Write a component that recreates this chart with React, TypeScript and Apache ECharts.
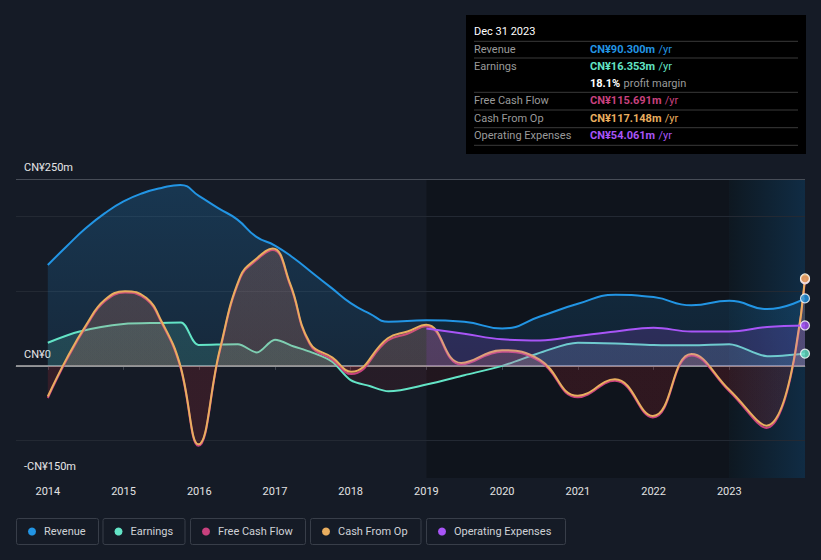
import React, { useEffect, useRef } from 'react';
import * as echarts from 'echarts';

// ---------- data ----------
const years = [2014, 2015, 2016, 2017, 2018, 2019, 2020, 2021, 2022, 2023];
const yLabelValues = [250, 0, -150];
const gridValues = [200, 100, -100];
const xMin = 2013.58;
const xMax = 2024;
const yMin = -150;
const yMax = 250;
const pastStart = 2019;
const forecastStart = 2023;
const tipDate = 'Dec 31 2023';

const revenue: [number, number][] = [
  [2014.0, 135], [2014.25, 160], [2014.5, 184], [2014.75, 204], [2015.0, 220],
  [2015.25, 231], [2015.5, 238], [2015.75, 242], [2016.0, 227], [2016.25, 211],
  [2016.5, 196], [2016.75, 173], [2017.0, 161], [2017.25, 144], [2017.5, 124],
  [2017.75, 104], [2018.0, 84], [2018.25, 70], [2018.5, 59], [2019.0, 61],
  [2019.5, 59], [2020.0, 50], [2020.5, 66], [2021.0, 83], [2021.5, 95],
  [2022.0, 92], [2022.5, 81], [2023.0, 87], [2023.5, 76], [2024.0, 90.3],
];

const earnings: [number, number][] = [
  [2014.0, 31], [2014.42, 46], [2015.0, 56], [2015.5, 57.5], [2015.76, 58],
  [2015.99, 28], [2016.51, 29], [2016.76, 18], [2017.0, 35], [2017.25, 26],
  [2017.46, 19], [2017.75, 6], [2018.0, -19], [2018.25, -27], [2018.5, -34],
  [2019.0, -25], [2019.5, -12.5], [2020.0, 0], [2020.54, 19], [2021.0, 31],
  [2021.5, 30], [2022.0, 28], [2022.5, 27.5], [2023.0, 29], [2023.5, 13],
  [2024.0, 16.353],
];

const cashFromOp: [number, number][] = [
  [2014.0, -41], [2014.25, 10], [2014.52, 57], [2014.75, 88], [2015.02, 100],
  [2015.3, 91], [2015.5, 60], [2015.74, 4], [2015.99, -105], [2016.27, 21],
  [2016.54, 119], [2016.75, 143], [2016.97, 157], [2017.2, 110], [2017.46, 31],
  [2017.76, 11], [2018.01, -8], [2018.49, 37], [2018.75, 46], [2019.0, 55],
  [2019.46, 4], [2020.0, 21], [2020.5, 8], [2021.0, -40], [2021.49, -18],
  [2021.99, -67], [2022.5, 16], [2023.0, -32], [2023.49, -80], [2024.0, 117.148],
];

const freeCashFlow: [number, number][] = [
  [2014.0, -43], [2014.25, 8], [2014.52, 55], [2014.75, 86], [2015.02, 98],
  [2015.3, 89], [2015.5, 58], [2015.74, 2], [2015.99, -107], [2016.27, 19],
  [2016.54, 117], [2016.75, 141], [2016.97, 155], [2017.2, 108], [2017.46, 29],
  [2017.76, 8], [2018.01, -11], [2018.49, 34], [2018.75, 43], [2019.0, 53],
  [2019.46, 2], [2020.0, 19], [2020.5, 6], [2021.0, -42], [2021.49, -20],
  [2021.99, -69], [2022.5, 14], [2023.0, -34], [2023.49, -83], [2024.0, 115.691],
];

const opex: [number, number][] = [
  [2019.0, 50], [2019.5, 43], [2020.0, 35.5], [2020.5, 34], [2021.0, 40],
  [2021.5, 46], [2022.0, 51], [2022.5, 46], [2023.0, 46], [2023.5, 52],
  [2024.0, 54.061],
];

// ---------- style ----------
const BG = '#151b26';
const FONT = 'Roboto, "Noto Sans", sans-serif';
const C = {
  revenue: '#2295e4',
  earnings: '#63e4c6',
  fcf: '#c8417e',
  cfo: '#e9ae5f',
  opex: '#a855f7',
};

const last = (a: [number, number][]) => a[a.length - 1];
const fmtY = (v: number) => (v === 0 ? 'CN¥0' : v < 0 ? `-CN¥${-v}m` : `CN¥${v}m`);

function lineSeries(id: string, name: string, data: [number, number][], color: string, z: number, smooth: number) {
  return {
    id,
    name,
    type: 'line',
    data,
    z,
    smooth,
    symbol: 'none',
    lineStyle: { color, width: 2 },
    itemStyle: { color },
    areaStyle: { color: 'rgba(0,0,0,0)', origin: 0 },
  };
}

export default function App() {
  const ref = useRef<HTMLDivElement>(null);

  useEffect(() => {
    document.body.style.margin = '0';
    document.body.style.background = BG;
    const chart = echarts.init(ref.current!, null, { renderer: 'svg' });

    const tipRows = [
      { label: 'Revenue', color: C.revenue, v: last(revenue)[1] },
      { label: 'Earnings', color: C.earnings, v: last(earnings)[1] },
      { label: '', color: '', v: 0 },
      { label: 'Free Cash Flow', color: C.fcf, v: last(freeCashFlow)[1] },
      { label: 'Cash From Op', color: C.cfo, v: last(cashFromOp)[1] },
      { label: 'Operating Expenses', color: C.opex, v: last(opex)[1] },
    ];
    const margin = (last(earnings)[1] / last(revenue)[1]) * 100;
    const rowY = [34, 51.3, 68.7, 85.3, 103.3, 120];
    const sepY = [26.3, 43, 77.3, 95, 112.7, 130.3];

    const tipChildren: any[] = [
      { type: 'rect', shape: { x: 0, y: 0, width: 340, height: 139 }, style: { fill: '#000' } },
      {
        type: 'text',
        style: { x: 8, y: 16, text: tipDate, fill: '#ffffff', font: `11px ${FONT}`, verticalAlign: 'middle' },
      },
    ];
    sepY.forEach((y) =>
      tipChildren.push({
        type: 'line',
        shape: { x1: 8, y1: y, x2: 332, y2: y },
        style: { stroke: '#3a3a3a', lineWidth: 1 },
      })
    );
    tipRows.forEach((r, i) => {
      if (r.label) {
        tipChildren.push({
          type: 'text',
          style: { x: 8, y: rowY[i], text: r.label, fill: '#9a9a9a', font: `11px ${FONT}`, verticalAlign: 'middle' },
        });
        tipChildren.push({
          type: 'text',
          style: {
            x: 124,
            y: rowY[i],
            text: `{b|CN¥${r.v.toFixed(3)}m} {n|/yr}`,
            verticalAlign: 'middle',
            rich: {
              b: { fill: r.color, fontWeight: 'bold', fontSize: 11, fontFamily: FONT },
              n: { fill: r.color, fontSize: 11, fontFamily: FONT },
            },
          },
        });
      } else {
        tipChildren.push({
          type: 'text',
          style: {
            x: 124,
            y: rowY[i],
            text: `{b|${margin.toFixed(1)}%} {n|profit margin}`,
            verticalAlign: 'middle',
            rich: {
              b: { fill: '#ffffff', fontWeight: 'bold', fontSize: 11, fontFamily: FONT },
              n: { fill: '#9a9a9a', fontSize: 11, fontFamily: FONT },
            },
          },
        });
      }
    });

    const legendItems = [
      { name: 'Revenue', color: C.revenue, x: 16, w: 82 },
      { name: 'Earnings', color: C.earnings, x: 102.5, w: 82 },
      { name: 'Free Cash Flow', color: C.fcf, x: 190, w: 115 },
      { name: 'Cash From Op', color: C.cfo, x: 310, w: 110.5 },
      { name: 'Operating Expenses', color: C.opex, x: 426, w: 139 },
    ];
    const legendEls: any[] = [];
    legendItems.forEach((it) => {
      legendEls.push({
        type: 'rect',
        shape: { x: it.x + 0.5, y: 518.5, width: it.w, height: 26, r: 2 },
        style: { fill: 'rgba(0,0,0,0)', stroke: '#383e49', lineWidth: 1 },
      });
      legendEls.push({
        type: 'circle',
        shape: { cx: it.x + 16, cy: 531.5, r: 4 },
        style: { fill: it.color },
      });
      legendEls.push({
        type: 'text',
        style: { x: it.x + 28, y: 531.5, text: it.name, fill: '#cfd2d7', font: `11px ${FONT}`, verticalAlign: 'middle' },
      });
    });

    const series: any[] = [
      {
        id: 'bg',
        type: 'line',
        data: [],
        z: 1,
        silent: true,
        markArea: {
          silent: true,
          z: 0,
          data: [
            [{ xAxis: pastStart, itemStyle: { color: 'rgba(0,0,0,0.24)' } }, { xAxis: forecastStart }],
            [
              {
                xAxis: forecastStart,
                itemStyle: {
                  color: new echarts.graphic.LinearGradient(0, 0, 1, 0, [
                    { offset: 0, color: '#0e1821' },
                    { offset: 1, color: '#102c44' },
                  ]),
                },
              },
              { xAxis: xMax },
            ],
          ],
        },
        markLine: {
          silent: true,
          z: 1,
          symbol: 'none',
          label: { show: false },
          animation: false,
          data: [
            ...gridValues.map((v) => ({ yAxis: v, lineStyle: { color: '#232933', width: 1, type: 'solid' } })),
            { yAxis: yMax, lineStyle: { color: '#474d57', width: 1, type: 'solid' } },
            { yAxis: 0, lineStyle: { color: '#b0b0b0', width: 1.5, type: 'solid' } },
          ],
        },
      },
      {
        ...lineSeries('revenue', 'Revenue', revenue, C.revenue, 2, 0.5),
        areaStyle: {
          origin: 0,
          color: new echarts.graphic.LinearGradient(0, 0, 0, 1, [
            { offset: 0, color: 'rgba(34,149,228,0.32)' },
            { offset: 1, color: 'rgba(34,149,228,0.16)' },
          ]),
        },
      },
      lineSeries('earnings', 'Earnings', earnings, C.earnings, 3, 0.3),
      lineSeries('fcf', 'Free Cash Flow', freeCashFlow, C.fcf, 4, 0.45),
      lineSeries('cfo', 'Cash From Op', cashFromOp, C.cfo, 5, 0.45),
      {
        ...lineSeries('opex', 'Operating Expenses', opex, C.opex, 6, 0.4),
        areaStyle: { origin: 0, color: 'rgba(168,85,247,0.25)' },
      },
      {
        id: 'dots',
        type: 'scatter',
        z: 8,
        symbolSize: 9,
        silent: true,
        data: [
          { value: last(earnings), itemStyle: { color: C.earnings } },
          { value: last(opex), itemStyle: { color: C.opex } },
          { value: last(revenue), itemStyle: { color: C.revenue } },
          { value: last(freeCashFlow), itemStyle: { color: C.fcf } },
          { value: last(cashFromOp), itemStyle: { color: C.cfo } },
        ],
        itemStyle: { borderColor: '#ffffff', borderWidth: 1.2 },
      },
    ];

    const option: any = {
      animation: false,
      backgroundColor: BG,
      textStyle: { fontFamily: FONT },
      grid: { left: 16, right: 16, top: 179, bottom: 82 },
      xAxis: {
        type: 'value',
        min: xMin,
        max: xMax,
        splitLine: { show: false },
        axisLine: { show: true, lineStyle: { color: '#3f4550', width: 1 } },
        axisTick: { show: true, customValues: years, length: 4, lineStyle: { color: '#3f4550' } },
        axisLabel: {
          customValues: years,
          formatter: (v: number) => String(v),
          color: '#e2e2e2',
          fontSize: 11,
          fontFamily: FONT,
          margin: 8,
        },
      },
      yAxis: {
        type: 'value',
        min: yMin,
        max: yMax,
        splitLine: { show: false },
        axisLine: { show: false },
        axisTick: { show: false },
        axisLabel: {
          inside: true,
          customValues: yLabelValues,
          formatter: fmtY,
          color: '#e6e6e6',
          fontSize: 11,
          fontFamily: FONT,
          margin: 8,
          verticalAlign: 'bottom',
          padding: [0, 0, 6, 0],
        },
      },
      graphic: [
        { type: 'group', left: 466, top: 15, children: tipChildren },
        ...legendEls,
      ],
      series,
    };

    chart.setOption(option);

    const zeroY = chart.convertToPixel({ yAxisIndex: 0 }, 0) as number;
    const split = (pos: string, neg: string) =>
      new echarts.graphic.LinearGradient(
        0, zeroY - 0.5, 0, zeroY + 0.5,
        [
          { offset: 0, color: pos },
          { offset: 1, color: neg },
        ],
        true
      );
    chart.setOption({
      series: [
        { id: 'earnings', areaStyle: { origin: 0, color: split('rgba(99,228,198,0.22)', 'rgba(200,40,50,0.14)') } },
        { id: 'fcf', areaStyle: { origin: 0, color: split('rgba(200,65,126,0.14)', 'rgba(200,40,50,0.13)') } },
        { id: 'cfo', areaStyle: { origin: 0, color: split('rgba(233,174,95,0.2)', 'rgba(200,40,50,0.13)') } },
      ],
    });

    return () => chart.dispose();
  }, []);

  return <div ref={ref} style={{ width: 821, height: 560, background: BG }} />;
}
